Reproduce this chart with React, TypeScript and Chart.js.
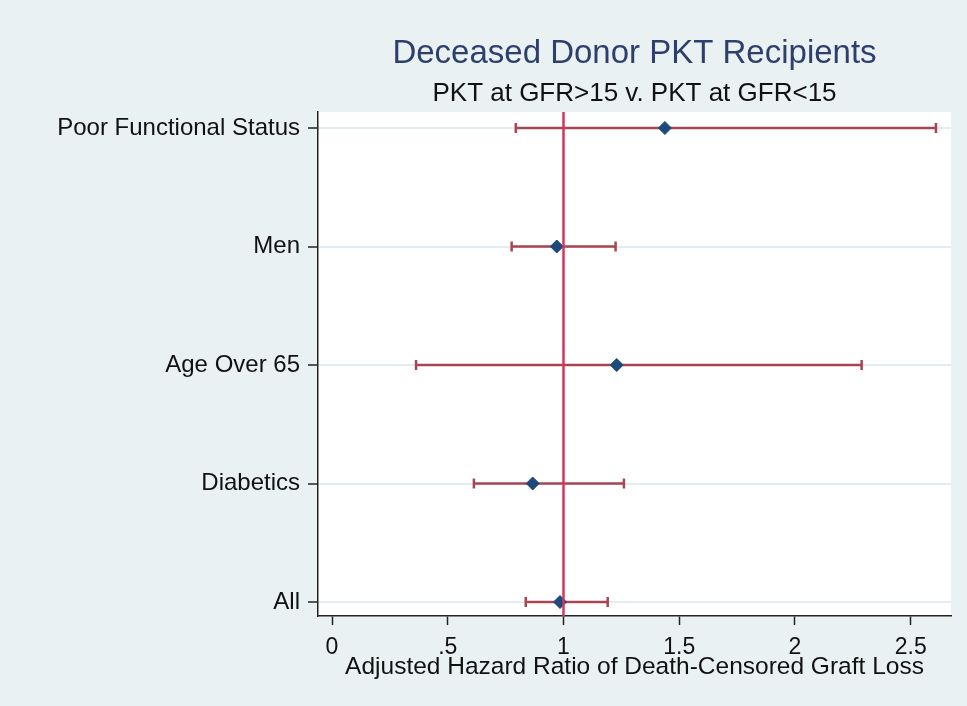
import React, { useEffect, useRef } from "react";
import { Chart, registerables } from "chart.js";

Chart.register(...registerables);

// ---- Data ----
const categories = ["All", "Diabetics", "Age Over 65", "Men", "Poor Functional Status"];
const categoryPos = [1, 2, 3, 4, 5];
const hazardRatio = [0.985, 0.867, 1.23, 0.971, 1.438];
const lowerCI = [0.837, 0.613, 0.363, 0.776, 0.794];
const upperCI = [1.191, 1.261, 2.288, 1.225, 2.609];
const xTickValues = [0, 0.5, 1, 1.5, 2, 2.5];
const xTickLabels = ["0", ".5", "1", "1.5", "2", "2.5"];
const referenceValue = 1;

const titleText = "Deceased Donor PKT Recipients";
const subtitleText = "PKT at GFR>15 v. PKT at GFR<15";
const xAxisTitle = "Adjusted Hazard Ratio of Death-Censored Graft Loss";

const X_MIN = -0.0605;
const X_MAX = 2.674;
const Y_MIN = 0.882;
const Y_MAX = 5.135;

const FONT = '"Liberation Sans", Arial, Helvetica, sans-serif';
const BG = "#eaf1f3";
const BAR_COLOR = "#a94452";
const REF_COLOR = "#d4355f";
const POINT_COLOR = "#1d4a79";

export default function App() {
  const canvasRef = useRef<HTMLCanvasElement | null>(null);

  useEffect(() => {
    const prevMargin = document.body.style.margin;
    document.body.style.margin = "0";
    const canvas = canvasRef.current;
    if (!canvas) return;

    const bgPlugin = {
      id: "bgAndTitles",
      beforeDraw(chart: any) {
        const { ctx, chartArea } = chart;
        ctx.save();
        ctx.fillStyle = BG;
        ctx.fillRect(0, 0, chart.width, chart.height);
        ctx.fillStyle = "#ffffff";
        ctx.fillRect(
          chartArea.left,
          chartArea.top,
          chartArea.right - chartArea.left,
          chartArea.bottom - chartArea.top
        );
        const cx = (chartArea.left + chartArea.right) / 2;
        ctx.textAlign = "center";
        ctx.textBaseline = "alphabetic";
        ctx.fillStyle = "#2e3f6e";
        ctx.font = `33px ${FONT}`;
        ctx.fillText(titleText, cx, 63);
        ctx.fillStyle = "#111111";
        ctx.font = `26px ${FONT}`;
        ctx.fillText(subtitleText, cx, 101);
        ctx.restore();
      },
    };

    const barDatasets = categoryPos.map((y, i) => ({
      label: categories[i] + " CI",
      data: [
        { x: lowerCI[i], y },
        { x: upperCI[i], y },
      ],
      showLine: true,
      borderColor: BAR_COLOR,
      borderWidth: 2.5,
      pointStyle: "line",
      rotation: 90,
      pointRadius: 5,
      pointBorderColor: BAR_COLOR,
      pointBorderWidth: 2.5,
      pointHoverRadius: 5,
    }));

    const chart = new Chart(canvas, {
      type: "scatter",
      data: {
        datasets: [
          {
            label: "Reference",
            data: [
              { x: referenceValue, y: Y_MIN },
              { x: referenceValue, y: Y_MAX },
            ],
            showLine: true,
            borderColor: REF_COLOR,
            borderWidth: 2.5,
            pointRadius: 0,
          },
          {
            label: "Hazard Ratio",
            data: categoryPos.map((y, i) => ({ x: hazardRatio[i], y })),
            pointStyle: "rectRot",
            pointRadius: 6.5,
            backgroundColor: POINT_COLOR,
            borderColor: POINT_COLOR,
            borderWidth: 1,
          },
          ...barDatasets,
        ] as any,
      },
      plugins: [bgPlugin],
      options: {
        responsive: false,
        animation: false,
        devicePixelRatio: 1,
        layout: { padding: { top: 112, right: 16, left: 0, bottom: 0 } },
        plugins: {
          legend: { display: false },
          tooltip: { enabled: false },
          title: { display: false },
        },
        scales: {
          x: {
            type: "linear",
            min: X_MIN,
            max: X_MAX,
            afterBuildTicks: (scale: any) => {
              scale.ticks = xTickValues.map((v) => ({ value: v }));
            },
            afterFit: (scale: any) => {
              scale.height = 90;
            },
            ticks: {
              autoSkip: false,
              maxRotation: 0,
              padding: 9,
              color: "#111111",
              font: { family: FONT, size: 23 },
              callback: (_v: any, i: number) => xTickLabels[i],
            },
            grid: {
              drawOnChartArea: false,
              drawTicks: true,
              tickLength: 9,
              tickColor: "#222222",
              tickWidth: 1.5,
            },
            border: { display: true, color: "#222222", width: 1.5 },
            title: {
              display: true,
              text: xAxisTitle,
              color: "#111111",
              font: { family: FONT, size: 24.5 },
              padding: { top: 0, bottom: 24 },
            },
          },
          y: {
            type: "linear",
            min: Y_MIN,
            max: Y_MAX,
            afterBuildTicks: (scale: any) => {
              scale.ticks = categoryPos.map((v) => ({ value: v }));
            },
            afterFit: (scale: any) => {
              scale.width = 318;
            },
            ticks: {
              autoSkip: false,
              padding: 8,
              color: "#111111",
              font: { family: FONT, size: 24 },
              callback: (_v: any, i: number) => categories[i],
            },
            grid: {
              color: "#e3ecf0",
              lineWidth: 2,
              drawTicks: true,
              tickLength: 10,
              tickColor: "#222222",
              tickWidth: 1.5,
            },
            border: { display: true, color: "#222222", width: 1.5 },
          },
        },
      } as any,
    });

    return () => {
      chart.destroy();
      document.body.style.margin = prevMargin;
    };
  }, []);

  return (
    <div style={{ position: "fixed", left: 0, top: 0, width: 967, height: 706, background: BG }}>
      <canvas ref={canvasRef} width={967} height={706} style={{ width: 967, height: 706, display: "block" }} />
    </div>
  );
}
